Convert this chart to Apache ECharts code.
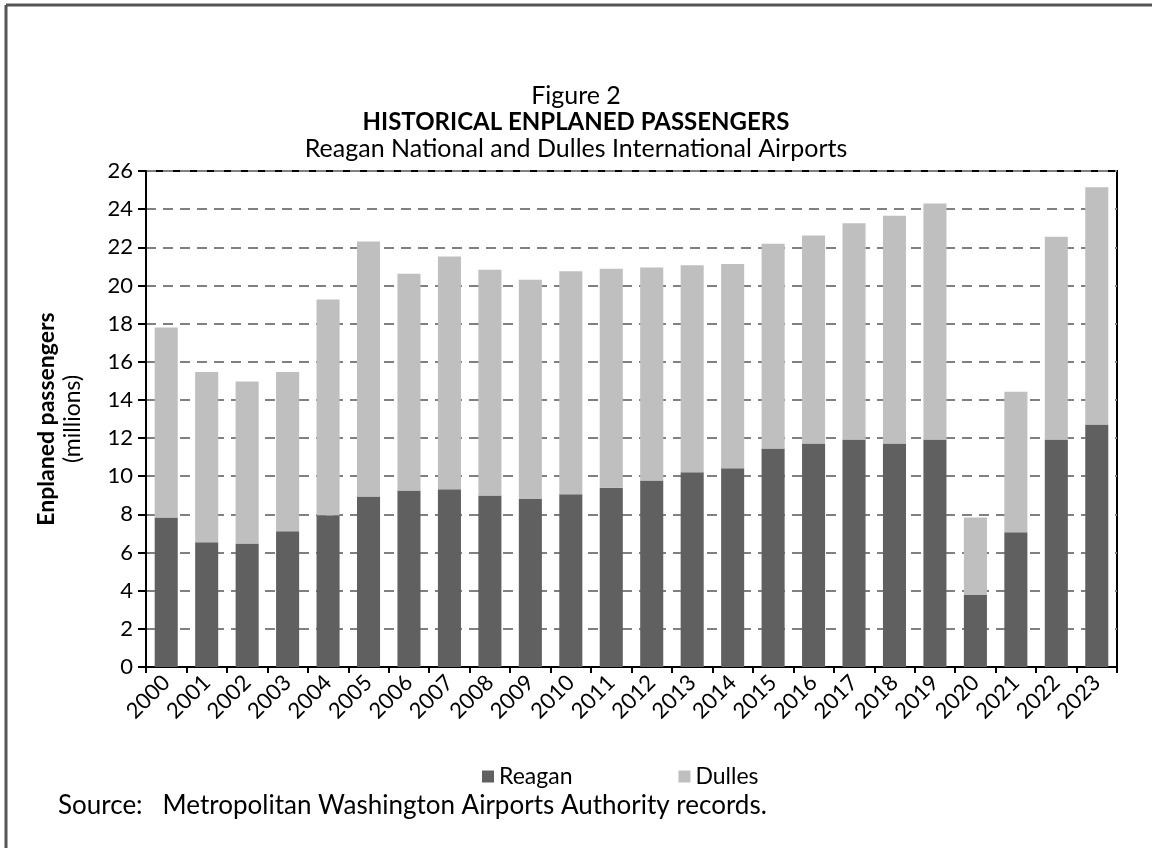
<!DOCTYPE html>
<html>
<head>
<meta charset="utf-8">
<title>Historical Enplaned Passengers</title>
<script src="https://cdn.jsdelivr.net/npm/echarts@6/dist/echarts.min.js"></script>
<style>
  html, body { margin: 0; padding: 0; background: #fff; }
  #chart { width: 1152px; height: 848px; }
</style>
</head>
<body>
<div id="chart"></div>
<script>
// 年份（类目轴）
const years = ['2000', '2001', '2002', '2003', '2004', '2005', '2006', '2007', '2008', '2009', '2010', '2011',
  '2012', '2013', '2014', '2015', '2016', '2017', '2018', '2019', '2020', '2021', '2022', '2023']
// Reagan National 旅客量（百万）
const reagan = [7.84, 6.54, 6.47, 7.12, 7.96, 8.94, 9.25, 9.32, 8.99, 8.80, 9.06, 9.39,
  9.77, 10.21, 10.42, 11.45, 11.71, 11.92, 11.71, 11.92, 3.77, 7.07, 11.92, 12.71]
// Dulles International 旅客量（百万），堆叠在 Reagan 上面
const dulles = [9.95, 8.92, 8.49, 8.34, 11.31, 13.36, 11.36, 12.20, 11.83, 11.50, 11.69, 11.48,
  11.17, 10.85, 10.70, 10.73, 10.91, 11.34, 11.94, 12.37, 4.07, 7.36, 10.63, 12.44]

const font = 'Lato, "Open Sans", sans-serif'

const chartInstance = echarts.init(document.getElementById('chart'))

const option = {
  backgroundColor: '#fff',
  textStyle: { fontFamily: font, color: '#000' },
  animation: false,
  grid: {
    left: 146,
    right: 35,
    top: 171,
    bottom: 181,
    show: true, // 画出外框（上、右）
    borderColor: '#000',
    borderWidth: 2,
    backgroundColor: 'transparent'
  },
  legend: {
    left: 477,
    top: 760,
    itemWidth: 12,
    itemHeight: 12,
    itemGap: 106,
    icon: 'rect',
    textStyle: { fontFamily: font, fontSize: 23, color: '#000' },
    data: ['Reagan', 'Dulles']
  },
  xAxis: {
    type: 'category',
    data: years,
    axisLine: { lineStyle: { color: '#000', width: 2 } },
    axisTick: { show: true, length: 6, lineStyle: { color: '#000', width: 2 } },
    axisLabel: {
      rotate: 45,
      fontSize: 22,
      color: '#000',
      margin: 12,
      fontFamily: font
    }
  },
  yAxis: {
    type: 'value',
    min: 0,
    max: 26,
    interval: 2,
    name: '{b|Enplaned passengers}\n{r|(millions)}',
    nameLocation: 'middle',
    nameRotate: 90,
    nameGap: 60,
    nameTextStyle: {
      rich: {
        b: { fontFamily: font, fontSize: 23, fontWeight: 'bold', color: '#000', lineHeight: 26 },
        r: { fontFamily: font, fontSize: 23, color: '#000', lineHeight: 26 }
      }
    },
    axisLine: { show: true, lineStyle: { color: '#000', width: 2 } },
    axisTick: { show: true, inside: false, length: 8, lineStyle: { color: '#000', width: 2 } },
    axisLabel: { fontSize: 22, color: '#000', margin: 13, fontFamily: font },
    splitLine: {
      show: true,
      lineStyle: { color: '#808080', width: 2, type: [10, 7] }
    }
  },
  series: [
    {
      name: 'Reagan',
      type: 'bar',
      stack: 'total',
      barCategoryGap: '43%',
      itemStyle: { color: '#606060' },
      data: reagan
    },
    {
      name: 'Dulles',
      type: 'bar',
      stack: 'total',
      barCategoryGap: '43%',
      itemStyle: { color: '#bfbfbf' },
      data: dulles
    }
  ],
  graphic: [
    // 图片外框（只有上边和左边）
    { type: 'line', shape: { x1: 6, y1: 5, x2: 1152, y2: 5 }, style: { stroke: '#555', lineWidth: 3 } },
    { type: 'line', shape: { x1: 6, y1: 5, x2: 6, y2: 848 }, style: { stroke: '#555', lineWidth: 3 } },
    // 标题三行
    {
      type: 'text', left: 'center', top: 83,
      style: { text: 'Figure 2', font: '25px ' + font, fill: '#000' }
    },
    {
      type: 'text', left: 'center', top: 110,
      style: { text: 'HISTORICAL ENPLANED PASSENGERS', font: 'bold 24px ' + font, fill: '#000' }
    },
    {
      type: 'text', left: 'center', top: 136,
      style: { text: 'Reagan National and Dulles International Airports', font: '25px ' + font, fill: '#000' }
    },
    // 数据来源
    {
      type: 'text', left: 58, top: 793,
      style: { text: 'Source:   Metropolitan Washington Airports Authority records.', font: '26px ' + font, fill: '#000' }
    }
  ]
}

chartInstance.setOption(option)
</script>
</body>
</html>
